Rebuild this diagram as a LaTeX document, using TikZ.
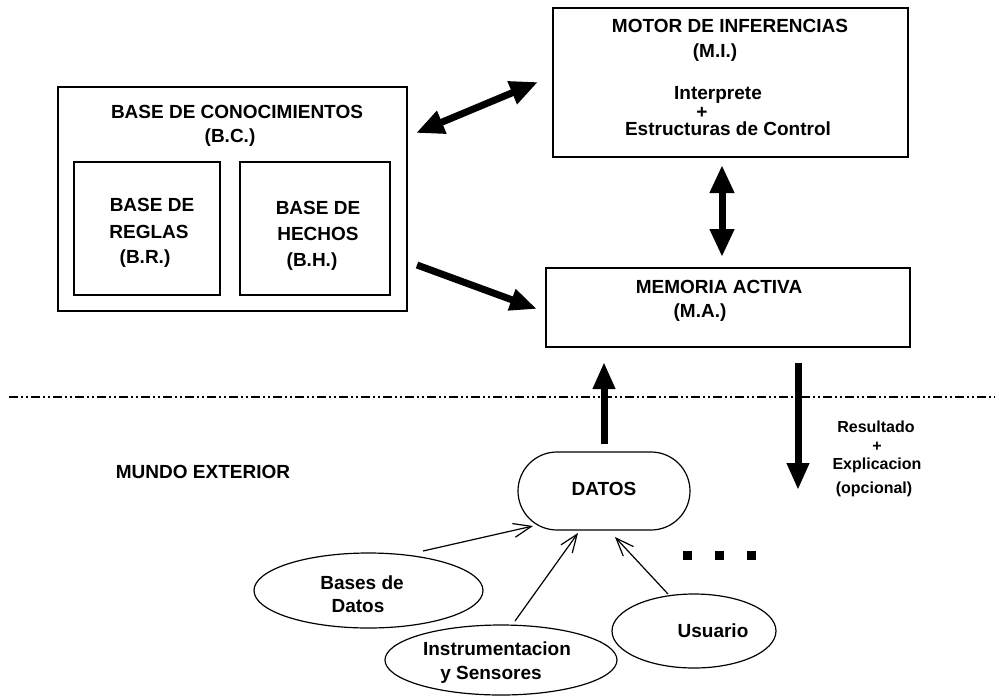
\documentclass[tikz,border=0pt]{standalone}
\usepackage{fontspec}
\setmainfont{Liberation Sans}
\usetikzlibrary{arrows.meta,shapes.geometric}
\begin{document}
\begin{tikzpicture}[x=1pt,y=-1pt,
  box/.style={draw, line width=1.2pt, inner sep=0pt},
  lbl/.style={font=\bfseries\fontsize{19}{22}\selectfont, inner sep=0pt},
  slbl/.style={font=\bfseries\fontsize{16}{19}\selectfont, inner sep=0pt},
  bigarrow/.style={line width=7pt, -{Triangle[length=27pt,width=21pt]}},
  bigdouble/.style={line width=7pt, {Triangle[length=28pt,width=23pt]}-{Triangle[length=28pt,width=23pt]}},
  thinarrow/.style={line width=1.2pt, -{Straight Barb[length=18pt,width=14pt]}},
  divider/.style={line width=2.5pt, dash pattern=on 9pt off 3pt on 2pt off 3pt on 2pt off 3pt},
  dot/.style={fill=black, minimum size=9pt, inner sep=0pt}]
\useasboundingbox (0,0) rectangle (999,697);

% boxes
\node[box, minimum width=349pt, minimum height=224pt] (bc) at (232.5,199) {};
\node[box, minimum width=146pt, minimum height=133pt] (br) at (147,228.5) {};
\node[box, minimum width=150pt, minimum height=133pt] (bh) at (315,228.5) {};
\node[box, minimum width=355pt, minimum height=149pt] (mi) at (730.5,82.5) {};
\node[box, minimum width=364pt, minimum height=79pt] (ma) at (728,307.5) {};
\node[box, minimum width=172pt, minimum height=78pt, rounded corners=39pt] (datos) at (604,491) {};
\node[box, ellipse, minimum width=229pt, minimum height=75pt] (bd) at (368.5,590.5) {};
\node[box, ellipse, minimum width=232pt, minimum height=70pt] (ins) at (501,660) {};
\node[box, ellipse, minimum width=164pt, minimum height=74pt] (usu) at (694,631) {};

% texts
\node[lbl] (t1) at (237,112) {BASE DE CONOCIMIENTOS};
\node[lbl] (t2) at (230,138) {(B.C.)};
\node[lbl] (t3) at (152,205) {BASE DE};
\node[lbl] (t4) at (149,232) {REGLAS};
\node[lbl] (t5) at (145,259) {(B.R.)};
\node[lbl] (t6) at (318,208) {BASE DE};
\node[lbl] (t7) at (318,234) {HECHOS};
\node[lbl] (t8) at (312,262) {(B.H.)};
\node[lbl] (t9) at (730,26) {MOTOR DE INFERENCIAS};
\node[lbl] (t10) at (715,53) {(M.I.)};
\node[lbl] (t11) at (718,95) {Interprete};
\node[lbl] (t12) at (702,113) {+};
\node[lbl] (t13) at (728,129) {Estructuras de Control};
\node[lbl] (t14) at (719,287) {MEMORIA ACTIVA};
\node[lbl] (t15) at (700,313) {(M.A.)};
\node[lbl] (t16) at (604,489) {DATOS};
\node[lbl] (t17) at (203,472) {MUNDO EXTERIOR};
\node[slbl] (t18) at (876,427) {Resultado};
\node[slbl] (t19) at (877,447) {+};
\node[slbl] (t20) at (877,465) {Explicacion};
\node[slbl] (t21) at (874,489) {(opcional)};
\node[lbl] (t22) at (362,583) {Bases de};
\node[lbl] (t23) at (358,606) {Datos};
\node[lbl] (t24) at (497,649) {Instrumentacion};
\node[lbl] (t25) at (491,675) {y Sensores};
\node[lbl] (t26) at (713,631) {Usuario};

% dots
\node[dot] (d1) at (687.5,555) {};
\node[dot] (d2) at (719.5,555) {};
\node[dot] (d3) at (751.5,555) {};

% divider
\coordinate (dl) at (9,397);
\coordinate (dr) at (995,397);
\draw[divider] (dl) -- (dr);

% arrow end points
\coordinate (a1s) at (416,133);
\coordinate (a1e) at (538,82);
\coordinate (a2s) at (722,165);
\coordinate (a2e) at (722,257);
\coordinate (a3s) at (417,265);
\coordinate (a3e) at (537,309);
\coordinate (a4s) at (604,444);
\coordinate (a4e) at (604,362);
\coordinate (a5s) at (798,363);
\coordinate (a5e) at (798,490);

\draw[bigdouble] (a1s) -- (a1e);
\draw[bigdouble] (a2s) -- (a2e);
\draw[bigarrow] (a3s) -- (a3e);
\draw[bigarrow] (a4s) -- (a4e);
\draw[bigarrow] (a5s) -- (a5e);

% thin arrows
\coordinate (b1s) at (423,551);
\coordinate (b1e) at (533,526);
\coordinate (b2s) at (515,621);
\coordinate (b2e) at (578,533);
\coordinate (b3s) at (668,594);
\coordinate (b3e) at (615,537);
\draw[thinarrow] (b1s) -- (b1e);
\draw[thinarrow] (b2s) -- (b2e);
\draw[thinarrow] (b3s) -- (b3e);
\end{tikzpicture}
\end{document}
